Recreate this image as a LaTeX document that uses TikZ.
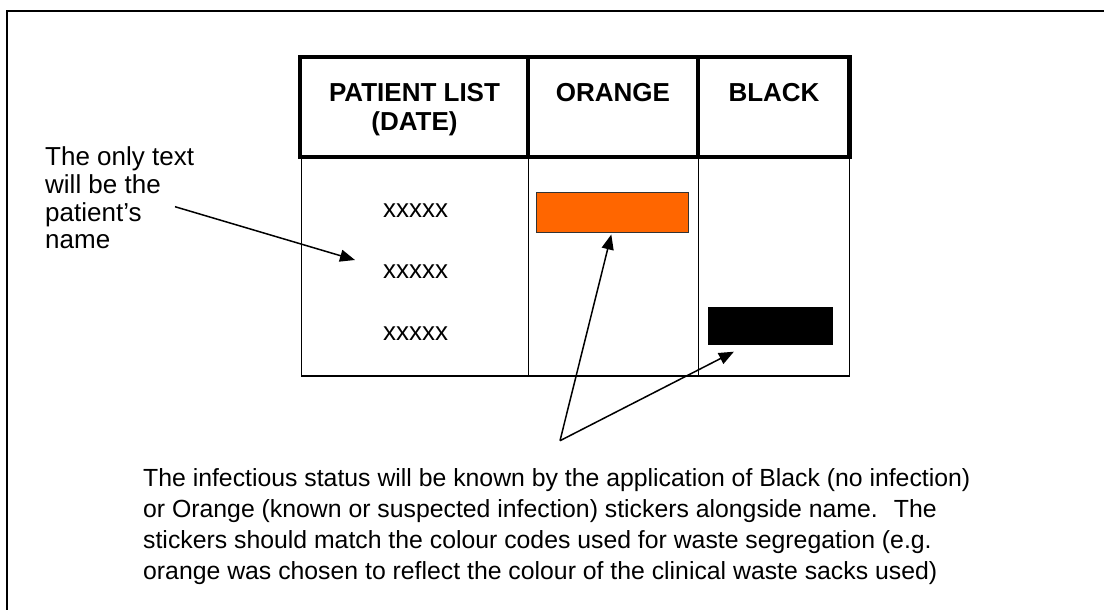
\documentclass[tikz,border=0pt]{standalone}
\usepackage{fontspec}
\setmainfont{Liberation Sans}
\usetikzlibrary{arrows.meta}
\begin{document}
\begin{tikzpicture}[x=1pt,y=-1pt,
  thickrule/.style={line width=4.5pt},
  thinrule/.style={line width=1.8pt},
  framerule/.style={line width=2pt},
  pointer/.style={line width=1.5pt,-{Triangle[length=15pt,width=12pt]}},
  headtext/.style={inner sep=0pt,anchor=north,align=center,font=\fontsize{26}{29.5}\selectfont\bfseries},
  celltext/.style={inner sep=0pt,anchor=center,font=\fontsize{26}{30}\selectfont},
  notetext/.style={inner sep=0pt,anchor=north west,align=left,font=\fontsize{26}{27.8}\selectfont},
  bodytext/.style={inner sep=0pt,anchor=north west,align=left,font=\fontsize{24.8}{31}\selectfont}]
\useasboundingbox (0,0) rectangle (1104,610);
% outer frame (only top and left visible)
\draw[framerule] (7,612) -- (7,11.5) -- (1106,11.5);
% table body (thin)
\draw[thinrule] (301.5,157) -- (301.5,376) -- (849.5,376) -- (849.5,157);
\draw[thinrule] (528.5,157) -- (528.5,376);
\draw[thinrule] (698.5,157) -- (698.5,376);
% table header (thick)
\draw[thickrule] (300,57) rectangle (849.5,157);
\draw[thickrule] (528,57) -- (528,157);
\draw[thickrule] (698,57) -- (698,157);
% header texts
\node[headtext] (hpat) at (414.5,83) {PATIENT LIST\\(DATE)};
\node[headtext] (horg) at (613,83) {ORANGE};
\node[headtext] (hblk) at (774,83) {BLACK};
% names
\node[celltext] (n1) at (415.5,210.7) {xxxxx};
\node[celltext] (n2) at (415.5,271.7) {xxxxx};
\node[celltext] (n3) at (415.5,333.3) {xxxxx};
% stickers
\path[draw=black!80,line width=1pt,fill={rgb,255:red,255;green,102;blue,0}] (536.8,192.3) rectangle (688.4,232.7);
\path[fill=black] (708.4,307.3) rectangle (833.1,345);
% notes
\node[notetext] (note) at (45,146.5) {The only text\\will be the\\patient’s\\name};
\node[bodytext] (body) at (143,468) {The infectious status will be known by the application of Black (no infection)\\or Orange (known or suspected infection) stickers alongside name.~ The\\stickers should match the colour codes used for waste segregation (e.g.\\orange was chosen to reflect the colour of the clinical waste sacks used)};
% connectors
\coordinate (a1s) at (175,206.7);
\coordinate (a1t) at (355,260);
\coordinate (apex) at (560,440.7);
\coordinate (a2t) at (611.3,234.5);
\coordinate (a3t) at (733.9,351.7);
\draw[pointer] (a1s) -- (a1t);
\draw[pointer] (apex) -- (a2t);
\draw[pointer] (apex) -- (a3t);
\end{tikzpicture}
\end{document}
